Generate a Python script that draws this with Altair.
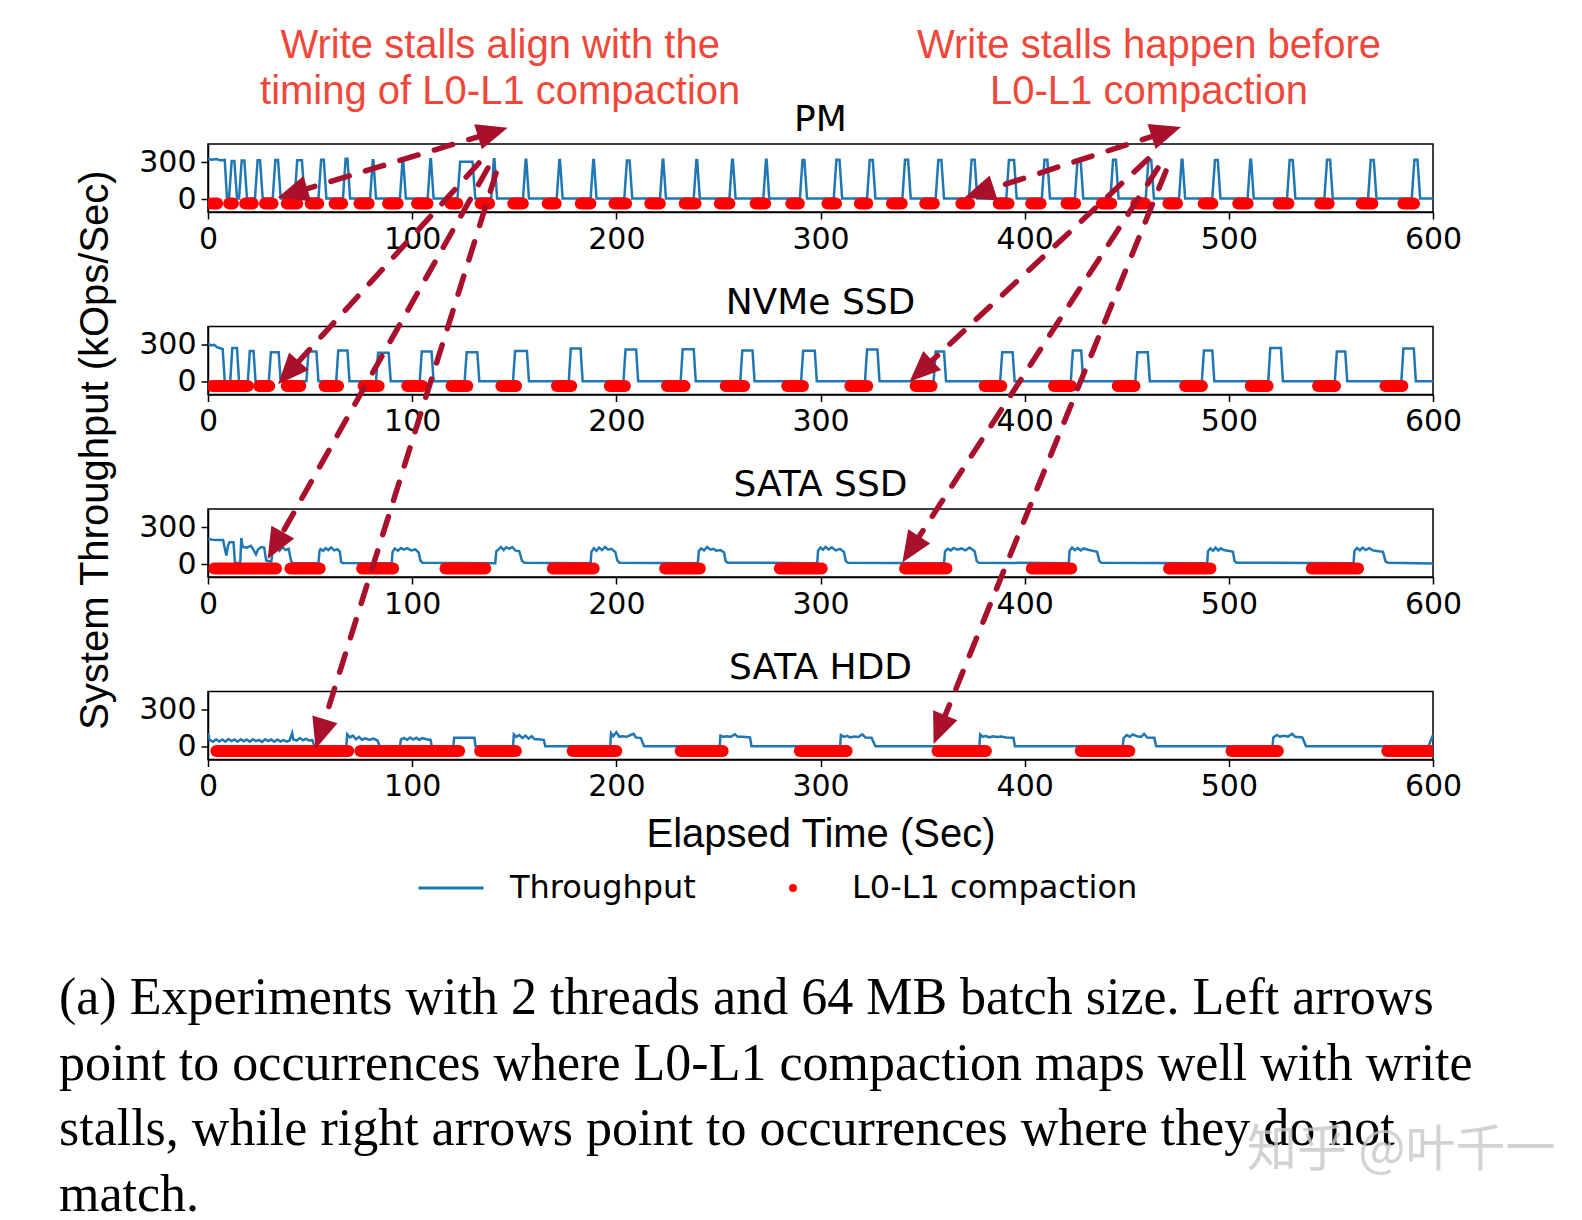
import math
import altair as alt
import pandas as pd

# ---------------- layout constants ----------------
W = 1225          # plot width of each panel (px)
H = 68            # plot height of each panel (px)
SPACING = 114.5   # vertical gap between panels (px)
PITCH = H + SPACING
X_DOMAIN = [0, 600]
Y_DOMAIN = [-105, 450]
UPP = (Y_DOMAIN[1] - Y_DOMAIN[0]) / H      # data units per pixel (vertical)
SPX = W / (X_DOMAIN[1] - X_DOMAIN[0])      # pixels per second

BLUE = "#1f77b4"
RED = "#ff0000"
ARROW_COLOR = "#a8102c"
NOTE_COLOR = "#f0473b"

PANELS = ["PM", "NVMe SSD", "SATA SSD", "SATA HDD"]
SERIES = ["Throughput", "L0-L1 compaction"]
DOT_LEVEL = -35
X_TICKS = [0, 100, 200, 300, 400, 500, 600]
Y_TICKS = [0, 300]

# ---------------- data ----------------
# PM: initial segment, then spikes (start, end, peak)
PM_HEAD = [(0, 328), (2, 322), (4, 327), (6, 318), (8.2, 320), (9.3, 5)]
PM_SPIKES = [
    (10.3, 14.2, 312), (15.2, 19.1, 315), (23.0, 26.8, 318), (31.7, 35.6, 320),
    (42.4, 47.3, 318), (54.1, 58.0, 322), (66.1, 69.6, 330), (79.4, 82.3, 318),
    (94.0, 96.9, 320), (107.6, 110.5, 325), (122.2, 130.9, 305), (138.7, 141.6, 325),
    (154.3, 157.2, 322), (170.8, 173.7, 320), (187.4, 190.3, 320), (203.9, 207.8, 316),
    (221.4, 224.3, 322), (237.9, 240.9, 320), (255.4, 258.4, 322), (272.0, 274.9, 322),
    (289.9, 293.4, 320), (306.5, 310.6, 322), (322.8, 326.9, 320), (340.1, 344.2, 322),
    (356.4, 360.5, 320), (372.7, 376.8, 322), (391.0, 396.1, 320), (408.4, 412.4, 322),
    (424.6, 428.7, 320), (442.0, 446.0, 322), (459.3, 463.3, 320), (475.6, 478.6, 322),
    (491.9, 495.9, 320), (509.2, 512.2, 322), (528.5, 532.6, 320), (546.8, 550.9, 322),
    (568.2, 572.3, 320), (589.6, 593.7, 322),
]
PM_BASE = 5
PM_DOTS = [
    (1.5, 4.5), (10.4, 12.2), (18.2, 21.9), (27.9, 31.6), (38.6, 43.7), (50.3, 54.0),
    (62.0, 65.7), (74.2, 78.7), (88.2, 92.9), (102.4, 107.5), (118.8, 122.1),
    (133.5, 137.7), (149.5, 154.2), (166.4, 170.3), (182.6, 187.3), (199.1, 204.8),
    (216.6, 221.3), (233.5, 238.8), (250.7, 255.4), (268.2, 272.9), (285.7, 289.4),
    (303.4, 307.6), (319.3, 322.9), (335.0, 339.8), (351.3, 355.5), (369.0, 372.8),
    (387.3, 392.1), (403.2, 407.8), (420.5, 424.7), (437.8, 442.4), (454.7, 458.9),
    (470.4, 474.6), (487.7, 491.9), (504.6, 509.2), (524.4, 529.2), (544.8, 548.9),
    (565.1, 570.3), (585.5, 590.7),
]

NVME_HEAD = [(0, 310), (1.5, 295), (3, 300), (4.5, 280), (6, 272), (7.2, 265), (8.2, 3)]
NVME_SPIKES = [
    (10.9, 15.2, 275), (19.5, 23.3, 250), (29.8, 35.6, 240), (48.2, 54.1, 245),
    (62.8, 69.3, 255), (82.3, 89.5, 235), (103.7, 110.5, 245), (125.7, 132.9, 240),
    (149.4, 157.2, 250), (176.7, 183.5, 270), (203.5, 210.7, 262), (231.5, 238.9, 265),
    (260.7, 267.7, 255), (290.5, 298.2, 252), (321.8, 328.9, 262), (355.4, 361.5, 245),
    (388.0, 395.1, 240), (422.6, 428.7, 255), (454.2, 461.3, 240), (486.8, 492.9, 255),
    (519.3, 526.5, 275), (551.9, 558.0, 245), (584.5, 591.6, 270),
]
NVME_BASE = 3
NVME_DOTS = [
    (2.0, 19.5), (25.0, 30.0), (38.6, 45.2), (57.1, 63.7), (76.2, 83.6), (97.6, 105.0),
    (119.3, 127.0), (143.7, 150.9), (170.9, 177.9), (196.8, 204.2), (224.8, 233.4),
    (253.6, 262.6), (283.7, 291.4), (314.6, 322.9), (346.6, 354.4), (380.4, 388.6),
    (414.4, 422.7), (445.6, 453.8), (478.6, 486.8), (510.7, 519.0), (543.7, 552.0),
    (576.7, 585.0),
]

SSD_LINE = [
    (0, 205), (3.5, 196), (7.4, 196), (8.2, 130), (9.0, 70), (9.8, 150), (10.5, 178),
    (12.5, 178), (13.2, 10), (15.8, 10), (16.3, 213), (17, 140), (19, 135), (21, 150),
    (22.5, 110), (23.5, 80), (24.5, 120), (26, 140), (27.5, 135), (28.5, 30), (31, 20),
    (31.8, 130), (33, 115), (34, 135), (35, 110), (36.5, 140), (38, 115), (39.5, 125),
    (40.8, 20), (41.5, 8),
    (54.1, 8), (54.6, 105), (55.1, 123), (56.4, 108), (57.6, 131), (58.9, 115), (60.3, 136),
    (61.9, 112), (63.4, 122), (64.6, 100), (65.2, 18), (66.0, 10),
    (90.0, 8), (90.4, 100), (91.5, 128), (93.0, 110), (94.5, 132), (96.0, 118), (97.5, 130),
    (99.5, 112), (101.5, 120), (103.2, 95), (104.0, 30), (105.0, 12),
    (140.7, 8), (141.2, 105), (142.3, 120), (143.5, 140), (144.8, 115), (146.0, 138),
    (147.5, 125), (149.0, 140), (150.5, 112), (152.5, 105), (153.8, 25), (155.0, 12),
    (187.4, 8), (187.8, 100), (189.0, 130), (190.3, 108), (191.5, 135), (193.0, 115),
    (194.5, 140), (196.0, 118), (197.5, 125), (199.5, 100), (200.5, 30), (201.5, 12),
    (239.9, 8), (240.4, 105), (241.5, 128), (243.0, 112), (244.5, 140), (246.0, 118),
    (247.5, 125), (249.0, 110), (251.0, 115), (252.8, 95), (253.5, 25), (254.5, 12),
    (298.4, 8), (298.8, 110), (300.0, 135), (301.2, 118), (302.5, 140), (304.0, 120),
    (305.5, 138), (307.5, 112), (309.5, 125), (311.5, 100), (312.4, 25), (313.5, 12),
    (360.5, 8), (361.0, 105), (362.3, 125), (363.8, 112), (365.2, 132), (367.0, 118),
    (369.0, 128), (371.0, 113), (373.0, 135), (375.5, 105), (376.5, 25), (377.5, 12),
    (421.6, 8), (422.0, 108), (423.2, 135), (424.6, 115), (426.0, 132), (427.5, 112),
    (429.0, 128), (431.0, 118), (433.0, 110), (435.5, 100), (436.6, 25), (437.5, 12),
    (489.4, 8), (489.8, 105), (491.0, 128), (492.3, 110), (493.5, 135), (494.8, 112),
    (496.0, 130), (497.5, 115), (499.5, 110), (502.0, 100), (502.8, 25), (503.8, 12),
    (561.1, 8), (561.5, 108), (562.8, 132), (564.2, 113), (565.5, 135), (567.0, 115),
    (568.8, 130), (570.5, 112), (572.5, 108), (575.5, 100), (576.8, 20), (578.0, 12),
    (600, 6),
]
SSD_DOTS = [
    (3.0, 33.3), (40.4, 54.7), (75.5, 90.7), (116.3, 135.8), (168.9, 188.9),
    (223.9, 240.9), (280.1, 300.6), (341.4, 361.7), (403.5, 422.8), (470.7, 491.0),
    (540.6, 563.3),
]

HDD_LINE = [
    (0, 110), (0.8, 55), (2.5, 40), (4, 60), (5.5, 42), (7, 58), (8.5, 40), (10, 62),
    (11.5, 45), (13, 58), (14.5, 40), (16, 60), (17.5, 44), (19, 58), (20.5, 40), (22, 60),
    (23.5, 45), (25, 55), (26.5, 38), (28, 60), (29.5, 45), (31, 58), (32.5, 40), (34, 58),
    (35.5, 42), (37, 55), (38.5, 40), (40, 50), (41.2, 110), (41.8, 58), (43.5, 50),
    (45, 70), (46.5, 52), (48, 65), (49.5, 48), (51, 55), (52.2, 3),
    (67.7, 3), (68.2, 100), (69.5, 75), (71, 90), (72.5, 60), (74, 80), (75.5, 55),
    (77, 70), (79, 55), (81, 65), (83, 50), (84.2, 3),
    (94, 3), (94.5, 60), (96, 72), (97.5, 55), (99, 75), (100.5, 58), (102, 72),
    (103.5, 55), (105, 70), (107, 60), (109, 55), (109.6, 3),
    (120.2, 3), (120.6, 72), (130.5, 72), (131, 3),
    (149.4, 3), (149.8, 100), (151, 80), (152.5, 95), (154, 70), (155.5, 90), (157, 65),
    (158.5, 85), (160, 60), (162, 60), (164.5, 55), (165.2, 3),
    (197, 3), (197.4, 110), (198.5, 85), (200, 118), (201.5, 80), (203, 85), (205, 80),
    (207, 95), (208.5, 105), (209.5, 75), (212, 70), (213.6, 3),
    (250.6, 3), (251, 90), (252.5, 80), (254, 85), (256, 80), (258, 100), (259.5, 80),
    (262, 80), (265.5, 75), (266.2, 3),
    (309.6, 3), (310, 95), (311.5, 80), (313, 88), (314.5, 75), (316.5, 82), (318.5, 78),
    (320.5, 100), (322, 75), (325, 72), (326.9, 3),
    (377.8, 3), (378.2, 100), (379.5, 80), (381, 88), (382.5, 75), (384.5, 85),
    (386.5, 78), (388.5, 82), (391, 75), (394.5, 72), (395.2, 3),
    (448, 3), (448.5, 70), (450, 95), (451.5, 80), (453, 100), (455, 85), (457, 80),
    (458.5, 105), (460, 75), (463.5, 72), (464.4, 3),
    (521.4, 3), (521.8, 75), (523.5, 95), (525, 82), (527, 88), (529, 82), (531, 105),
    (532.5, 80), (536, 75), (537.8, 3),
    (597.8, 3), (600, 95),
]
HDD_DOTS = [
    (4.1, 68.7), (74.6, 123.0), (133.3, 150.8), (178.6, 200.0), (231.5, 252.1),
    (289.9, 312.8), (357.3, 381.0), (427.5, 451.3), (501.3, 524.0), (577.6, 600.0),
]

# Annotation arrows: tail (time, panel, value) -> tip (time, panel, value)
ARROW_TAIL_T = [146.8, 132.7, 137.1, 141.1, 476.6, 460.4, 465.3, 469.2]
ARROW_TAIL_PANEL = [0, 0, 0, 0, 0, 0, 0, 0]
ARROW_TAIL_V = [583, 295, 254, 213, 589, 328, 254, 230]
ARROW_TIP_T = [34.1, 34.3, 29.2, 52.7, 370.4, 343.6, 340.1, 355.4]
ARROW_TIP_PANEL = [0, 1, 2, 3, 0, 1, 2, 3]
ARROW_TIP_V = [12, -21, 41, -19, 12, 0, 14, 22]
ARROW_BOTH_ENDS = [True, False, False, False, True, False, False, False]

# Notes (time, value in PM panel units)
NOTE_TEXT = ["Write stalls align with the", "timing of L0-L1 compaction",
             "Write stalls happen before", "L0-L1 compaction"]
NOTE_T = [143.1, 143.1, 460.9, 460.9]
NOTE_V = [1246, 876, 1246, 876]

Y_TITLE = "System Throughput (kOps/Sec)"
Y_TITLE_T, Y_TITLE_V = -54.9, -2048

CAPTION = [
    "(a) Experiments with 2 threads and 64 MB batch size. Left arrows",
    "point to occurrences where L0-L1 compaction maps well with write",
    "stalls, while right arrows point to occurrences where they do not",
    "match.",
]
CAPTION_T = -73.0
CAPTION_V = [-6520, -7055, -7591, -8126]

WATERMARK = "知乎 @叶千一"
WATERMARK_T, WATERMARK_V = 508.9, -7769


# ---------------- helpers ----------------
def spike_line(head, spikes, base, rise):
    rows = list(head)
    for s, e, p in spikes:
        rows += [(s, base), (s + rise, p), (e - rise, p), (e, base)]
    rows.append((600, base))
    return rows


def ann_v(panel, value):
    """value of panel `panel` expressed in the annotation layer's y units"""
    return value + (4 - panel) * PITCH * UPP


def to_px(t, panel, v):
    return t * SPX, panel * PITCH + (Y_DOMAIN[1] - v) / UPP


def from_px(px, py):
    return px / SPX, Y_DOMAIN[1] - (py - 4 * PITCH) * UPP


xs = alt.Scale(domain=X_DOMAIN, nice=False, zero=False)
ys = alt.Scale(domain=Y_DOMAIN, nice=False, zero=False)


def panel(name, line_rows, dot_rows, last):
    line_df = pd.DataFrame(line_rows, columns=["t", "v"])
    dots_df = pd.DataFrame(dot_rows, columns=["t0", "t1"])
    dots_df["v"] = DOT_LEVEL
    if last:
        xaxis = alt.Axis(values=X_TICKS, title="Elapsed Time (Sec)", labelFlush=False)
    else:
        xaxis = alt.Axis(values=X_TICKS, title=None, labelFlush=False)
    line = alt.Chart(line_df).mark_line(color=BLUE, strokeWidth=2.5, clip=True).encode(
        x=alt.X("t:Q", scale=xs, axis=xaxis),
        y=alt.Y("v:Q", scale=ys, axis=alt.Axis(values=Y_TICKS, title=None, labelFlush=False)),
        order="t:Q",
    )
    dots = alt.Chart(dots_df).mark_rule(color=RED, strokeWidth=12, strokeCap="round",
                                        clip=True).encode(
        x=alt.X("t0:Q", scale=xs), x2="t1:Q", y=alt.Y("v:Q", scale=ys))
    return alt.layer(line, dots).properties(
        width=W, height=H,
        title=alt.TitleParams(name, font="DejaVu Sans", fontSize=36, fontWeight="normal",
                              color="black", offset=5, anchor="middle"),
    )


p_pm = panel("PM", spike_line(PM_HEAD, PM_SPIKES, PM_BASE, 1.3), PM_DOTS, False)
p_nvme = panel("NVMe SSD", spike_line(NVME_HEAD, NVME_SPIKES, NVME_BASE, 1.0), NVME_DOTS, False)
p_ssd = panel("SATA SSD", SSD_LINE, SSD_DOTS, False)
p_hdd = panel("SATA HDD", HDD_LINE, HDD_DOTS, True)

# ---------------- annotation layer (arrows, notes, caption) ----------------
HEAD_LEN = 31
HEAD_PATH = "M0,0L-1.1,2.6L1.1,2.6Z"
HEAD_SIZE = (2 * HEAD_LEN / 2.6) ** 2
arrow_rows, head_rows = [], []
for i in range(len(ARROW_TIP_T)):
    x0, y0 = to_px(ARROW_TAIL_T[i], ARROW_TAIL_PANEL[i], ARROW_TAIL_V[i])
    x1, y1 = to_px(ARROW_TIP_T[i], ARROW_TIP_PANEL[i], ARROW_TIP_V[i])
    L = math.hypot(x1 - x0, y1 - y0)
    ux, uy = (x1 - x0) / L, (y1 - y0) / L
    ang = math.degrees(math.atan2(ux, -uy)) % 360
    ex, ey = x1 - ux * HEAD_LEN * 0.7, y1 - uy * HEAD_LEN * 0.7
    sx, sy = x0, y0
    if ARROW_BOTH_ENDS[i]:
        sx, sy = x0 + ux * HEAD_LEN * 0.7, y0 + uy * HEAD_LEN * 0.7
        t, v = from_px(x0, y0)
        head_rows.append({"t": t, "v": v, "ang": (ang + 180) % 360})
    t0, v0 = from_px(sx, sy)
    t1, v1 = from_px(ex, ey)
    arrow_rows.append({"t0": t0, "v0": v0, "t1": t1, "v1": v1})
    t, v = from_px(x1, y1)
    head_rows.append({"t": t, "v": v, "ang": ang})

arrows = alt.Chart(pd.DataFrame(arrow_rows)).mark_rule(
    color=ARROW_COLOR, strokeWidth=5.5, strokeDash=[19, 17], strokeCap="round", clip=False
).encode(
    x=alt.X("t0:Q", scale=xs, axis=None), y=alt.Y("v0:Q", scale=ys, axis=None),
    x2="t1:Q", y2="v1:Q",
)
heads = alt.Chart(pd.DataFrame(head_rows)).mark_point(
    shape=HEAD_PATH, size=HEAD_SIZE, filled=True, color=ARROW_COLOR, opacity=1, clip=False
).encode(
    x=alt.X("t:Q", scale=xs, axis=None), y=alt.Y("v:Q", scale=ys, axis=None),
    angle=alt.Angle("ang:Q", scale=None),
)

notes_df = pd.DataFrame({"text": NOTE_TEXT, "t": NOTE_T,
                         "v": [ann_v(0, v) for v in NOTE_V]})
notes = alt.Chart(notes_df).mark_text(
    font="Liberation Sans", fontSize=40, color=NOTE_COLOR, align="center",
    baseline="middle", clip=False
).encode(x=alt.X("t:Q", scale=xs, axis=None), y=alt.Y("v:Q", scale=ys, axis=None),
         text="text:N")

ytitle_df = pd.DataFrame({"text": [Y_TITLE], "t": [Y_TITLE_T], "v": [ann_v(0, Y_TITLE_V)]})
ytitle = alt.Chart(ytitle_df).mark_text(
    font="Liberation Sans", fontSize=40, color="black", angle=270, align="center",
    baseline="middle", clip=False
).encode(x=alt.X("t:Q", scale=xs, axis=None), y=alt.Y("v:Q", scale=ys, axis=None),
         text="text:N")

cap_df = pd.DataFrame({"text": CAPTION, "t": [CAPTION_T] * len(CAPTION),
                       "v": [ann_v(0, v) for v in CAPTION_V]})
caption = alt.Chart(cap_df).mark_text(
    font="Liberation Serif", fontSize=52, color="black", align="left",
    baseline="middle", clip=False
).encode(x=alt.X("t:Q", scale=xs, axis=None), y=alt.Y("v:Q", scale=ys, axis=None),
         text="text:N")

wm_df = pd.DataFrame({"text": [WATERMARK], "t": [WATERMARK_T], "v": [ann_v(0, WATERMARK_V)]})
watermark = alt.Chart(wm_df).mark_text(
    font="Noto Sans CJK SC", fontSize=50, color="#c8c8c8", opacity=0.8, align="left",
    baseline="middle", clip=False
).encode(x=alt.X("t:Q", scale=xs, axis=None), y=alt.Y("v:Q", scale=ys, axis=None),
         text="text:N")

# legend symbols: a 65px stroke for the line and a small solid dot, sharing one symbol size
LINE_SYMBOL = "M-1,0H1"
DOT_SYMBOL = ("M-0.08,0A0.08,0.08 0 1,0 0.08,0A0.08,0.08 0 1,0 -0.08,0Z"
              "M-0.035,0A0.035,0.035 0 1,0 0.035,0A0.035,0.035 0 1,0 -0.035,0Z")
LEG = alt.Legend(orient="none", legendX=209, legendY=710, direction="horizontal",
                 title=None, labelFont="DejaVu Sans", labelFontSize=32, labelLimit=0,
                 labelColor="black", symbolStrokeWidth=2.8, symbolSize=4225,
                 labelOffset=25, columnPadding=63, padding=0)
leg_df = pd.DataFrame({"series": SERIES, "t": [-1000, -1000], "v": [0, 0]})
legend_layer = alt.Chart(leg_df).transform_filter("datum.t > 0").mark_point(
    filled=False, strokeWidth=2.8, opacity=1
).encode(
    x=alt.X("t:Q", scale=xs, axis=None), y=alt.Y("v:Q", scale=ys, axis=None),
    color=alt.Color("series:N", scale=alt.Scale(domain=SERIES, range=[BLUE, RED]), legend=LEG),
    shape=alt.Shape("series:N", scale=alt.Scale(domain=SERIES, range=[LINE_SYMBOL, DOT_SYMBOL]),
                    legend=LEG),
)

annot = alt.layer(caption, watermark, ytitle, notes, arrows, heads, legend_layer).properties(
    width=W, height=H, view=alt.ViewBackground(stroke="transparent")
)

chart = alt.vconcat(p_pm, p_nvme, p_ssd, p_hdd, annot, spacing=SPACING, bounds="flush").properties(
    padding={"left": 50, "top": 17, "right": 10, "bottom": 10},
    background="white",
).configure_view(stroke="black", strokeWidth=1.5).configure_axis(
    labelFont="DejaVu Sans", labelFontSize=30, labelColor="black",
    tickColor="black", domainColor="black", tickSize=7, tickWidth=1.5, domainWidth=1.5,
    grid=False, labelPadding=5, titleFont="Liberation Sans", titleFontSize=40,
    titleFontWeight="normal", titleColor="black", titlePadding=13,
)

chart.save("out.html", embed_options={"renderer": "svg", "actions": False})
